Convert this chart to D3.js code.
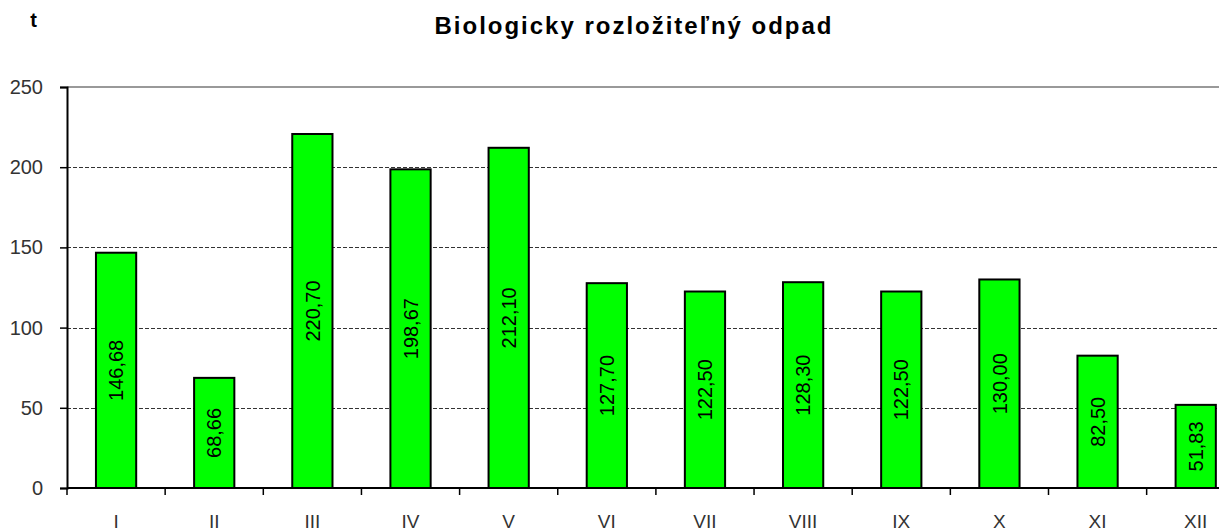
<!DOCTYPE html>
<html>
<head>
<meta charset="utf-8">
<script src="https://cdn.jsdelivr.net/npm/d3@7"></script>
<style>
  body { margin: 0; background: #fff; }
  svg { display: block; font-family: "Liberation Sans", Arial, sans-serif; }
</style>
</head>
<body>
<div id="chart"></div>
<script>
// data
let months = ["I", "II", "III", "IV", "V", "VI", "VII", "VIII", "IX", "X", "XI", "XII"];
let values = [146.68, 68.66, 220.70, 198.67, 212.10, 127.70, 122.50, 128.30, 122.50, 130.00, 82.50, 51.83];
let yTicks = [0, 50, 100, 150, 200, 250];

let W = 1219, H = 530;
let margin = { top: 87, left: 67, bottom: 42 };
let step = 98.15;
let plotRight = margin.left + step * months.length; // runs past the picture edge
let fontSize = 20;

let svg = d3.select("#chart").html("")
  .append("svg")
  .attr("width", W)
  .attr("height", H);

let x = d3.scaleBand()
  .domain(months)
  .range([margin.left, plotRight])
  .paddingInner(0.59)
  .paddingOuter(0.295);

let y = d3.scaleLinear()
  .domain([0, 250])
  .range([H - margin.bottom, margin.top]);

// gridlines
svg.append("g")
  .selectAll("line")
  .data(yTicks.filter(d => d > 0 && d < 250))
  .enter()
  .append("line")
  .attr("x1", margin.left)
  .attr("x2", plotRight)
  .attr("y1", d => Math.round(y(d)) + 0.5)
  .attr("y2", d => Math.round(y(d)) + 0.5)
  .attr("stroke", "#333")
  .attr("stroke-dasharray", "4,2");

// top border of plot
svg.append("line")
  .attr("x1", margin.left)
  .attr("x2", plotRight)
  .attr("y1", y(250))
  .attr("y2", y(250))
  .attr("stroke", "#999")
  .attr("stroke-width", 2);

// bars
svg.append("g")
  .selectAll("rect")
  .data(values)
  .enter()
  .append("rect")
  .attr("x", (d, i) => x(months[i]))
  .attr("y", d => y(d))
  .attr("width", x.bandwidth())
  .attr("height", d => y(0) - y(d))
  .attr("fill", "#00ff00")
  .attr("stroke", "#000")
  .attr("stroke-width", 2);

// value labels, rotated inside bars
svg.append("g")
  .selectAll("text")
  .data(values)
  .enter()
  .append("text")
  .attr("transform", (d, i) =>
    `translate(${x(months[i]) + x.bandwidth() / 2},${(y(d) + y(0)) / 2})rotate(-90)`)
  .attr("text-anchor", "middle")
  .attr("dy", "0.36em")
  .attr("font-size", fontSize)
  .attr("fill", "#000")
  .text(d => d.toFixed(2).replace(".", ","));

// y axis
let yAxis = svg.append("g")
  .attr("transform", `translate(${margin.left},0)`)
  .call(d3.axisLeft(y).tickValues(yTicks).tickSize(7).tickPadding(17));
yAxis.select(".domain").attr("stroke", "#000").attr("stroke-width", 2);
yAxis.selectAll(".tick line").attr("stroke", "#000").attr("stroke-width", 1.5);
yAxis.selectAll("text")
  .attr("font-size", fontSize)
  .attr("fill", "#333")
  .attr("font-family", "Liberation Sans, Arial, sans-serif");

// x axis with ticks at category boundaries
let xg = svg.append("g");
xg.append("line")
  .attr("x1", margin.left)
  .attr("x2", plotRight)
  .attr("y1", y(0))
  .attr("y2", y(0))
  .attr("stroke", "#000")
  .attr("stroke-width", 2);
xg.selectAll("line.tick")
  .data(d3.range(months.length + 1))
  .enter()
  .append("line")
  .attr("class", "tick")
  .attr("x1", i => margin.left + i * x.step())
  .attr("x2", i => margin.left + i * x.step())
  .attr("y1", y(0))
  .attr("y2", y(0) + 7)
  .attr("stroke", "#000")
  .attr("stroke-width", 1.5);
xg.selectAll("text")
  .data(months)
  .enter()
  .append("text")
  .attr("x", d => x(d) + x.bandwidth() / 2)
  .attr("y", 528)
  .attr("text-anchor", "middle")
  .attr("font-size", 19)
  .attr("fill", "#333")
  .text(d => d);

// title and unit
svg.append("text")
  .attr("x", 633)
  .attr("y", 34)
  .attr("text-anchor", "middle")
  .attr("font-size", 24)
  .attr("font-weight", "bold")
  .attr("textLength", 397)
  .attr("lengthAdjust", "spacing")
  .text("Biologicky rozložiteľný odpad");

svg.append("text")
  .attr("x", 33.5)
  .attr("y", 27)
  .attr("text-anchor", "middle")
  .attr("font-size", 20)
  .attr("font-weight", "bold")
  .text("t");
</script>
</body>
</html>
